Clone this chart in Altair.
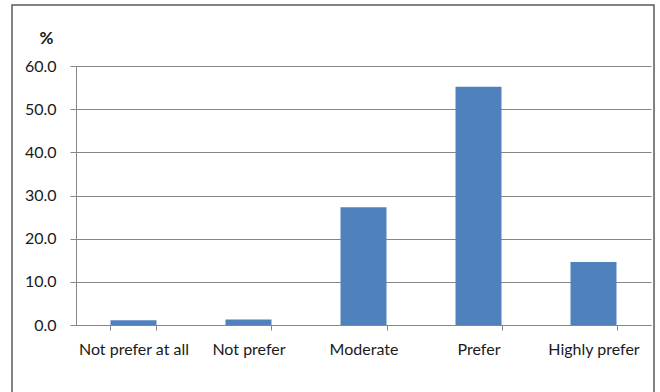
import altair as alt
import pandas as pd

categories = ["Not prefer at all", "Not prefer", "Moderate", "Prefer", "Highly prefer"]
values = [1.1, 1.3, 27.3, 55.2, 14.6]

df = pd.DataFrame({"cat": categories, "val": values})

W, H = 575, 259
PL, PT = 76, 66

border = alt.Chart(pd.DataFrame({"a": [0]})).mark_rect(
    fillOpacity=0, stroke="#595959", strokeWidth=1.5
).encode(
    x=alt.value(12 - PL), x2=alt.value(654 - PL),
    y=alt.value(5 - PT), y2=alt.value(420 - PT)
)

bars = alt.Chart(df).mark_bar(color="#4F81BD").encode(
    x=alt.X("cat:N", sort=categories, title=None,
            scale=alt.Scale(paddingInner=0.6, paddingOuter=0.3),
            axis=alt.Axis(labelAngle=0, tickBand="extent", tickSize=5,
                          tickColor="#868686", domainColor="#868686",
                          labelFont="Lato", labelFontSize=16, labelColor="#1a1a1a",
                          labelPadding=11, grid=False)),
    y=alt.Y("val:Q", title="%",
            scale=alt.Scale(domain=[0, 60], nice=False),
            axis=alt.Axis(values=[0, 10, 20, 30, 40, 50, 60], format=".1f",
                          tickSize=6, tickColor="#868686", domainColor="#868686",
                          gridColor="#868686", gridWidth=1,
                          labelFont="Lato", labelFontSize=16, labelColor="#1a1a1a",
                          labelPadding=14, labelAlign="right", labelBaseline="middle",
                          titleAngle=0, titleX=-30, titleY=-23, titleAlign="center",
                          titleBaseline="alphabetic", titleFont="Lato",
                          titleFontSize=17, titleFontWeight="bold", titleColor="#1a1a1a"))
)

chart = alt.layer(border, bars).properties(
    width=W, height=H,
    autosize=alt.AutoSizeParams(type="none"),
    padding={"left": PL, "top": PT, "right": 660 - PL - W, "bottom": 392 - PT - H},
    background="white"
).configure_view(stroke=None).configure_axisY(labelPadding=14)

chart.save("out.html", embed_options={"renderer": "svg", "actions": False})
